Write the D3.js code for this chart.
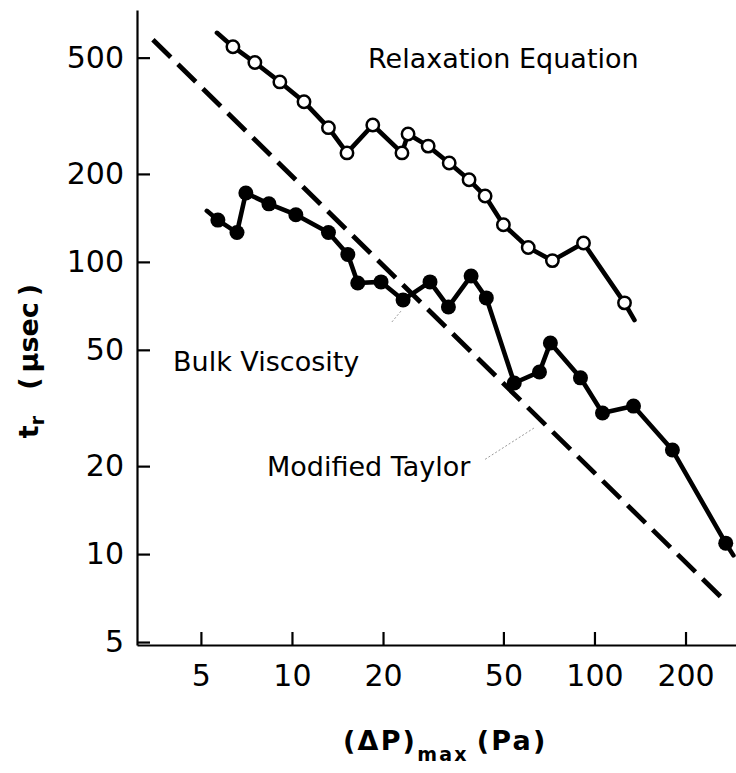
<!DOCTYPE html>
<html>
<head>
<meta charset="utf-8">
<script src="https://cdn.jsdelivr.net/npm/d3@7"></script>
<style>
  html, body { margin: 0; padding: 0; background: #fff; }
  svg { display: block; }
  text { font-family: "DejaVu Sans", sans-serif; fill: #000; }
</style>
</head>
<body>
<svg id="chart" width="736" height="773"></svg>
<script>
// Relaxation equation: open circles (pressure in Pa, rise time in µs)
const relaxP = [6.38, 7.54, 9.12, 10.96, 13.2, 15.2, 18.5, 23.1, 24.2, 28.2, 33.1, 38.5, 43.5, 50.0, 60.4, 72.6, 92.0, 125.7];
const relaxT = [545, 481, 413, 353, 288, 236, 294, 236, 274, 249, 218, 191, 168, 134, 112, 101, 116, 72.4];
// curve runs a little past the first and last measured points
const relaxStart = [5.65, 608];
const relaxEnd = [135.6, 63.2];

// Bulk viscosity: filled circles
const bulkP = [5.69, 6.58, 7.04, 8.39, 10.3, 13.2, 15.3, 16.5, 19.7, 23.3, 28.6, 32.9, 39.1, 43.9, 54.3, 65.8, 71.5, 89.9, 106.3, 134.6, 181, 271.6];
const bulkT = [139, 126, 172, 158, 145, 126, 106, 84.7, 85.4, 74.1, 85.4, 70.1, 89.5, 75.3, 38.5, 42.0, 52.8, 40.1, 30.4, 32.1, 22.7, 10.9];
const bulkStart = [5.23, 149.5];
const bulkEnd = [288, 9.9];

// Modified Taylor: straight dashed line between two end points
const taylorP = [3.47, 275];
const taylorT = [576, 6.79];

// faint leader lines from the labels
const leaderBulk = [[21.4, 62.3], [23.1, 68.5]];
const leaderTaylor = [[43.5, 21.1], [63.8, 27.2]];

const xTicks = [5, 10, 20, 50, 100, 200];
const yTicks = [5, 10, 20, 50, 100, 200, 500];

const svg = d3.select("#chart");
const plotLeft = 137, plotRight = 736, plotTop = 10, plotBottom = 645;

const x = d3.scaleLog().domain([3.074, 293.7]).range([plotLeft, plotRight]);
const y = d3.scaleLog().domain([4.885, 727.8]).range([plotBottom, plotTop]);

// axes: ticks point into the plot
const yAxis = d3.axisLeft(y).tickValues(yTicks).tickFormat(d3.format("d"))
  .tickSizeInner(-13).tickSizeOuter(0).tickPadding(13);
const xAxis = d3.axisBottom(x).tickValues(xTicks).tickFormat(d3.format("d"))
  .tickSizeInner(-13).tickSizeOuter(0).tickPadding(20);

const gy = svg.append("g").attr("transform", `translate(${plotLeft},0)`).call(yAxis);
const gx = svg.append("g").attr("transform", `translate(0,${plotBottom})`).call(xAxis);
[gx, gy].forEach(g => {
  g.selectAll("path.domain").attr("stroke", "#000").attr("stroke-width", 2.2);
  g.selectAll(".tick line").attr("stroke", "#000").attr("stroke-width", 2.2);
  g.selectAll(".tick text").attr("font-family", "DejaVu Sans, sans-serif")
    .attr("font-size", 30).attr("fill", "#000");
});

const line = d3.line().x(d => x(d[0])).y(d => y(d[1]));

// Modified Taylor dashed line
svg.append("path")
  .datum(taylorP.map((p, i) => [p, taylorT[i]]))
  .attr("d", line)
  .attr("fill", "none").attr("stroke", "#000")
  .attr("stroke-width", 4.8).attr("stroke-dasharray", "25,10");

// leader lines
[leaderBulk, leaderTaylor].forEach(l => {
  svg.append("path").datum(l).attr("d", line)
    .attr("fill", "none").attr("stroke", "#999").attr("stroke-width", 1)
    .attr("stroke-dasharray", "2,2");
});

// Bulk viscosity curve
const bulkPts = bulkP.map((p, i) => [p, bulkT[i]]);
svg.append("path")
  .datum([bulkStart, ...bulkPts, bulkEnd])
  .attr("d", line)
  .attr("fill", "none").attr("stroke", "#000")
  .attr("stroke-width", 4.6).attr("stroke-linejoin", "round").attr("stroke-linecap", "round");
svg.append("g").selectAll("circle").data(bulkPts).join("circle")
  .attr("cx", d => x(d[0])).attr("cy", d => y(d[1])).attr("r", 7.5)
  .attr("fill", "#000");

// Relaxation equation curve
const relaxPts = relaxP.map((p, i) => [p, relaxT[i]]);
svg.append("path")
  .datum([relaxStart, ...relaxPts, relaxEnd])
  .attr("d", line)
  .attr("fill", "none").attr("stroke", "#000")
  .attr("stroke-width", 4.6).attr("stroke-linejoin", "round").attr("stroke-linecap", "round");
svg.append("g").selectAll("circle").data(relaxPts).join("circle")
  .attr("cx", d => x(d[0])).attr("cy", d => y(d[1])).attr("r", 6.2)
  .attr("fill", "#fff").attr("stroke", "#000").attr("stroke-width", 2.5);

// curve labels
const labels = [
  { text: "Relaxation Equation", x: 368, y: 68 },
  { text: "Bulk Viscosity", x: 173, y: 371 },
  { text: "Modified Taylor", x: 267, y: 476 }
];
svg.append("g").selectAll("text").data(labels).join("text")
  .attr("x", d => d.x).attr("y", d => d.y)
  .attr("font-size", 27)
  .text(d => d.text);

// x axis title
const xt = svg.append("text")
  .attr("x", 343).attr("y", 750)
  .attr("font-size", 27).attr("font-weight", "bold").attr("letter-spacing", 2.2);
xt.append("tspan").text("(ΔP)");
xt.append("tspan").attr("font-size", 19).attr("dy", 11).text("max");
xt.append("tspan").attr("dy", -11).attr("dx", 8).text("(Pa)");

// y axis title
const yt = svg.append("text")
  .attr("transform", "translate(38,361) rotate(-90)")
  .attr("text-anchor", "middle")
  .attr("font-size", 27).attr("font-weight", "bold");
yt.append("tspan").text("t");
yt.append("tspan").attr("font-size", 19).attr("dy", 6).text("r");
yt.append("tspan").attr("dy", -6).attr("dx", 26).text("(");
yt.append("tspan").attr("dx", 5).text("μsec");
yt.append("tspan").attr("dx", 6).text(")");
</script>
</body>
</html>
